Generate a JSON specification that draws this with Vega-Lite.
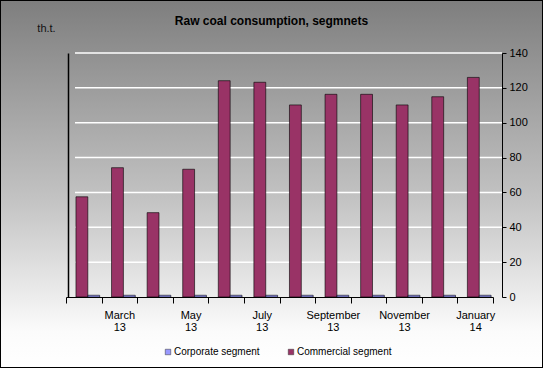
{
  "$schema": "https://vega.github.io/schema/vega-lite/v6.json",
  "width": 543,
  "height": 368,
  "autosize": {"type": "none"},
  "padding": 0,
  "background": "#ffffff",
  "view": {
    "fill": {"gradient": "linear", "x1": 0, "y1": 0, "x2": 0, "y2": 1, "stops": [{"offset": 0, "color": "#7e7e7e"}, {"offset": 0.55, "color": "#c4c4c4"}, {"offset": 0.9, "color": "#fbfbfb"}, {"offset": 1, "color": "#ffffff"}]},
    "stroke": "#000000",
    "strokeWidth": 2
  },
  "config": {
    "font": "Liberation Sans"
  },
  "title": {
    "text": "Raw coal consumption, segmnets",
    "fontSize": 12,
    "fontWeight": "bold",
    "font": "Liberation Sans",
    "color": "#000000",
    "anchor": "middle",
    "offset": -28
  },
  "datasets": {
    "bars": [
      {"month": "February 13", "segment": "Commercial segment", "value": 57.5},
      {"month": "February 13", "segment": "Corporate segment", "value": 1},
      {"month": "March 13", "segment": "Commercial segment", "value": 74.2},
      {"month": "March 13", "segment": "Corporate segment", "value": 1},
      {"month": "April 13", "segment": "Commercial segment", "value": 48.4},
      {"month": "April 13", "segment": "Corporate segment", "value": 1},
      {"month": "May 13", "segment": "Commercial segment", "value": 73.3},
      {"month": "May 13", "segment": "Corporate segment", "value": 1},
      {"month": "June 13", "segment": "Commercial segment", "value": 124.1},
      {"month": "June 13", "segment": "Corporate segment", "value": 1},
      {"month": "July 13", "segment": "Commercial segment", "value": 123.2},
      {"month": "July 13", "segment": "Corporate segment", "value": 1},
      {"month": "August 13", "segment": "Commercial segment", "value": 110.2},
      {"month": "August 13", "segment": "Corporate segment", "value": 1},
      {"month": "September 13", "segment": "Commercial segment", "value": 116.3},
      {"month": "September 13", "segment": "Corporate segment", "value": 1},
      {"month": "October 13", "segment": "Commercial segment", "value": 116.3},
      {"month": "October 13", "segment": "Corporate segment", "value": 1},
      {"month": "November 13", "segment": "Commercial segment", "value": 110.2},
      {"month": "November 13", "segment": "Corporate segment", "value": 1},
      {"month": "December 13", "segment": "Commercial segment", "value": 114.9},
      {"month": "December 13", "segment": "Corporate segment", "value": 1},
      {"month": "January 14", "segment": "Commercial segment", "value": 126},
      {"month": "January 14", "segment": "Corporate segment", "value": 1}
    ],
    "grid": [
      {"v": 20}, {"v": 40}, {"v": 60}, {"v": 80}, {"v": 100}, {"v": 120}, {"v": 140}
    ]
  },
  "layer": [
    {
      "data": {"name": "grid"},
      "mark": {"type": "rule", "color": "#ffffff", "strokeWidth": 1.5, "xOffset": 9, "x2Offset": 9},
      "encoding": {
        "x": {"datum": "February 13", "type": "nominal", "bandPosition": 0},
        "x2": {"datum": "January 14", "bandPosition": 1},
        "y": {
          "field": "v",
          "type": "quantitative",
          "axis": {
            "orient": "left",
            "offset": -68,
            "labels": false,
            "ticks": false,
            "grid": false,
            "domainColor": "#000000",
            "domainWidth": 1.5,
            "title": "th.t.",
            "titleAngle": 0,
            "titleX": -22,
            "titleY": 28,
            "titleAlign": "center",
            "titleBaseline": "middle",
            "titleFontSize": 11,
            "titleFontWeight": "normal",
            "titleColor": "#111111",
            "titleFont": "Liberation Sans"
          }
        }
      }
    },
    {
      "data": {"name": "bars"},
      "mark": {"type": "bar", "stroke": "#000000", "strokeWidth": 0.6},
      "encoding": {
        "x": {
          "field": "month",
          "type": "nominal",
          "sort": null,
          "scale": {
            "domain": ["February 13", "March 13", "April 13", "May 13", "June 13", "July 13", "August 13", "September 13", "October 13", "November 13", "December 13", "January 14"],
            "range": [66, 493], "paddingInner": 0, "paddingOuter": 0
          },
          "axis": {
            "orient": "bottom",
            "offset": -71,
            "title": null,
            "tickBand": "extent",
            "labelAngle": 0,
            "labelAlign": "center",
            "labelExpr": "indexof(['March 13','May 13','July 13','September 13','November 13','January 14'], datum.value) >= 0 ? split(datum.value, ' ') : ''",
            "labelFontSize": 11,
            "labelLineHeight": 12,
            "labelColor": "#000000",
            "labelPadding": 12,
            "labelFont": "Liberation Sans",
            "domainColor": "#000000",
            "domainWidth": 1,
            "tickColor": "#000000",
            "tickSize": 6,
            "grid": false
          }
        },
        "xOffset": {
          "field": "segment",
          "type": "nominal",
          "sort": ["Commercial segment", "Corporate segment"],
          "scale": {"paddingInner": 0, "paddingOuter": 0.5, "align": 0.84}
        },
        "y": {
          "field": "value",
          "type": "quantitative",
          "scale": {"domain": [0, 140], "range": [297, 53], "nice": false, "zero": true},
          "axis": {
            "orient": "right",
            "offset": -41,
            "values": [0, 20, 40, 60, 80, 100, 120, 140],
            "grid": false,
            "title": null,
            "domainColor": "#000000",
            "tickColor": "#000000",
            "tickSize": 4,
            "labelFontSize": 11,
            "labelColor": "#000000",
            "labelPadding": 3,
            "labelFont": "Liberation Sans"
          }
        },
        "color": {
          "field": "segment",
          "type": "nominal",
          "scale": {"domain": ["Corporate segment", "Commercial segment"], "range": ["#9999ff", "#993366"]},
          "legend": {
            "orient": "none",
            "legendX": 163,
            "legendY": 347,
            "direction": "horizontal",
            "title": null,
            "symbolType": "square",
            "symbolSize": 30,
            "symbolStrokeColor": "#333333",
            "symbolStrokeWidth": 0.5,
            "labelFontSize": 10,
            "labelColor": "#000000",
            "labelFont": "Liberation Sans",
            "labelOffset": 1,
            "columnPadding": 26
          }
        }
      }
    }
  ],
  "resolve": {"axis": {"y": "independent"}}
}
